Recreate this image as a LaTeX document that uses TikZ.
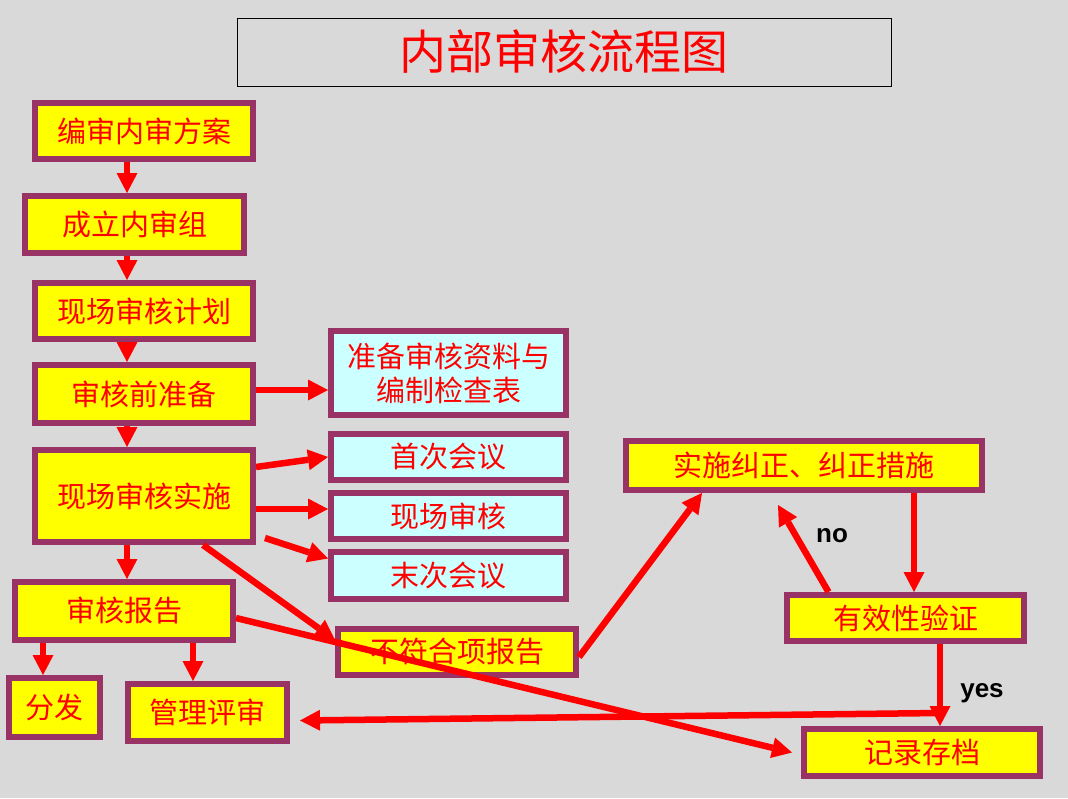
\documentclass[tikz,border=0pt]{standalone}
\usepackage{fontspec}
\newfontfamily\cjk{Noto Sans CJK SC}
\newfontfamily\lbl{Liberation Sans}
\usetikzlibrary{arrows.meta}
\definecolor{bgGray}{HTML}{D9D9D9}
\definecolor{boxPurple}{HTML}{993366}
\definecolor{boxYellow}{HTML}{FFFF00}
\definecolor{boxCyan}{HTML}{CCFFFF}
\definecolor{txtRed}{HTML}{FF0000}

\begin{document}
\begin{tikzpicture}[
  x=1pt, y=-1pt,
  box/.style={
    draw=boxPurple, line width=6pt,
    inner sep=0pt, align=center, text=txtRed,
    font=\cjk\fontsize{29}{34}\selectfont
  },
  ybox/.style={box, fill=boxYellow},
  cbox/.style={box, fill=boxCyan},
  flow/.style={draw=txtRed, line width=6.5pt,
    -{Triangle[length=20pt,width=21pt,line width=0pt]}},
  answer/.style={anchor=base, font=\lbl\bfseries\fontsize{26}{30}\selectfont}
]
\fill[bgGray] (0,0) rectangle (1068,798);
\useasboundingbox (0,0) rectangle (1068,798);

% --- Title ---
\node[draw=black, line width=1pt, minimum width=654pt, minimum height=68pt,
  text=txtRed, font=\cjk\fontsize{47}{52}\selectfont] (title) at (564,52) {内部审核流程图};

% --- Left column ---
\node[ybox, minimum width=218pt, minimum height=56pt] (fangan)   at (144,131)   {编审内审方案};
\node[ybox, minimum width=219pt, minimum height=57pt] (neishen)  at (134.5,224.5) {成立内审组};
\node[ybox, minimum width=218pt, minimum height=56pt] (jihua)    at (144,311)   {现场审核计划};
\node[ybox, minimum width=218pt, minimum height=58pt] (zhunbei)  at (144,394)   {审核前准备};
\node[ybox, minimum width=218pt, minimum height=92pt] (shishi)   at (144,496)   {现场审核实施};
\node[ybox, minimum width=218pt, minimum height=58pt] (baogao)   at (124,611)   {审核报告};
\node[ybox, minimum width=91pt,  minimum height=59pt] (fenfa)    at (54.5,707.5) {分发};
\node[ybox, minimum width=159pt, minimum height=57pt] (pingshen) at (207.5,712.5) {管理评审};

% --- Middle column ---
\node[cbox, minimum width=235pt, minimum height=84pt] (ziliao)   at (448.5,373)   {准备审核资料与\\编制检查表};
\node[cbox, minimum width=235pt, minimum height=46pt] (shouci)   at (448.5,457)   {首次会议};
\node[cbox, minimum width=235pt, minimum height=46pt] (xianchang) at (448.5,516)  {现场审核};
\node[cbox, minimum width=235pt, minimum height=47pt] (moci)     at (448.5,575.5) {末次会议};
\node[ybox, minimum width=238pt, minimum height=46pt] (bufuhe)   at (457,652)     {不符合项报告};

% --- Right part ---
\node[ybox, minimum width=356pt, minimum height=49pt] (jiuzheng) at (804,465.5) {实施纠正、纠正措施};
\node[ybox, minimum width=237pt, minimum height=46pt] (youxiao)  at (905.5,618) {有效性验证};
\node[ybox, minimum width=236pt, minimum height=47pt] (cundang)  at (922,752.5) {记录存档};

\coordinate (colA) at (127,0);
\coordinate (colB) at (43,0);
\coordinate (colC) at (193,0);
\coordinate (colD) at (914,0);
\coordinate (colE) at (940,0);
\coordinate (yesjoin) at (940,713);

% --- Main flow ---
\draw[flow] (fangan.south -| colA) -- (neishen.north -| colA);
\draw[flow] (neishen.south -| colA) -- (jihua.north -| colA);
\draw[flow] (jihua.south -| colA) -- (zhunbei.north -| colA);
\draw[flow] (zhunbei.south -| colA) -- (shishi.north -| colA);
\draw[flow] (shishi.south -| colA) -- (baogao.north -| colA);
\draw[flow] (baogao.south -| colB) -- (fenfa.north -| colB);
\draw[flow] (baogao.south -| colC) -- (pingshen.north -| colC);

% --- Side branches ---
\draw[flow] ([yshift=4pt]zhunbei.east) -- ([yshift=-17pt]ziliao.west);
\draw[flow] ([yshift=29pt]shishi.east) -- (shouci.west);
\draw[flow] ([yshift=-13pt]shishi.east) -- ([yshift=7pt]xianchang.west);
\draw[flow] ([shift={(9pt,7pt)}]shishi.south east) -- ([yshift=17pt]moci.west);
\draw[flow] ([xshift=59pt]shishi.south) -- ([yshift=12pt]bufuhe.west);
\draw[flow] ([yshift=-7pt]baogao.east) -- ([shift={(-9pt,0pt)}]cundang.west);

% --- Corrective loop ---
\draw[flow] ([yshift=-5pt]bufuhe.east) -- ([xshift=-102pt]jiuzheng.south);
\draw[flow] (jiuzheng.south -| colD) -- (youxiao.north -| colD);
\draw[flow] ([xshift=-77pt]youxiao.north) -- ([shift={(-26pt,-12pt)}]jiuzheng.south);
\draw[flow] (youxiao.south -| colE) -- (cundang.north -| colE);
\draw[flow] (yesjoin) -- ([shift={(10pt,-8pt)}]pingshen.east);

\node[answer] (no)  at (832,542) {no};
\node[answer] (yes) at (982,697) {yes};

\end{tikzpicture}
\end{document}
